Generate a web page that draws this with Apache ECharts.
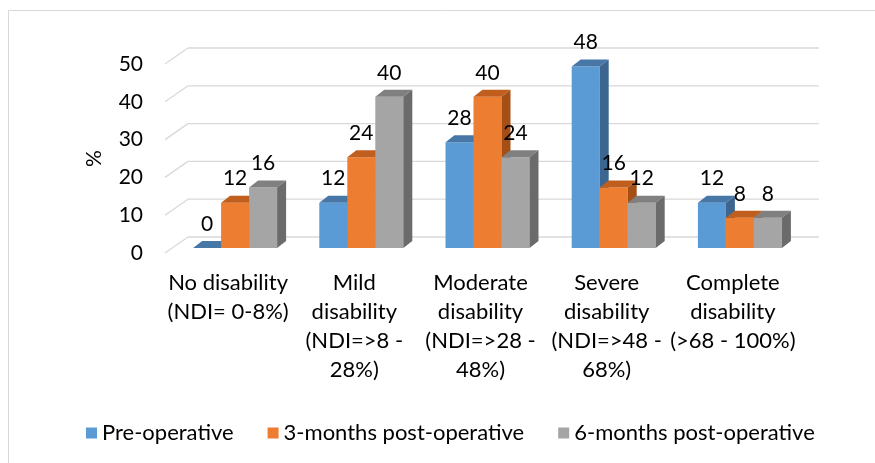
<!DOCTYPE html>
<html>
<head>
<meta charset="utf-8">
<script src="https://cdn.jsdelivr.net/npm/echarts@6/dist/echarts.min.js"></script>
<style>
  html, body { margin: 0; padding: 0; background: #ffffff; }
  #chart { width: 875px; height: 463px; }
</style>
</head>
<body>
<div id="chart"></div>
<script>
const categories = [
  'No disability\n(NDI= 0-8%)',
  'Mild\ndisability\n(NDI=>8 -\n28%)',
  'Moderate\ndisability\n(NDI=>28 -\n48%)',
  'Severe\ndisability\n(NDI=>48 -\n68%)',
  'Complete\ndisability\n(>68 - 100%)'
]
const seriesNames = ['Pre-operative', '3-months post-operative', '6-months post-operative']
const preOp = [0, 12, 28, 48, 12]
const post3m = [12, 24, 40, 16, 8]
const post6m = [16, 40, 24, 12, 8]
const yTicks = [0, 10, 20, 30, 40, 50]

const font = 'Lato, "Open Sans", sans-serif'
// front / top / side colours of each series
const faces = [
  ['#5b9bd5', '#4677a7', '#3c6690'],
  ['#ed7d31', '#c05e1e', '#a54f17'],
  ['#a5a5a5', '#808080', '#6b6b6b']
]
const BAR_W = 28
const DEPTH_X = 9
const DEPTH_Y = 7
// bars stand halfway into the depth of the floor
const MID_X = 7
const MID_Y = 5
// back wall offset from the front plane
const WALL_X = 23
const WALL_Y = 16

function barRenderer (s) {
  return function (params, api) {
    const i = api.value(0)
    const v = api.value(1)
    const top = api.coord([i, v])
    const base = api.coord([i, 0])
    const x0 = top[0] - 1.5 * BAR_W + s * BAR_W + MID_X
    const x1 = x0 + BAR_W
    const yt = top[1] - MID_Y
    const yb = base[1] - MID_Y
    const c = faces[s]
    return {
      type: 'group',
      children: [
        { type: 'rect', shape: { x: x0, y: yt, width: BAR_W, height: yb - yt }, style: { fill: c[0] } },
        { type: 'polygon', shape: { points: [[x0, yt], [x0 + DEPTH_X, yt - DEPTH_Y], [x1 + DEPTH_X, yt - DEPTH_Y], [x1, yt]] }, style: { fill: c[1] } },
        { type: 'polygon', shape: { points: [[x1, yt], [x1 + DEPTH_X, yt - DEPTH_Y], [x1 + DEPTH_X, yb - DEPTH_Y], [x1, yb]] }, style: { fill: c[2] } },
        { type: 'text', x: x0 + BAR_W / 2, y: yt - 24, style: { text: String(v), font: '21px ' + font, fill: '#000', align: 'center', verticalAlign: 'middle' } }
      ]
    }
  }
}

function wallRenderer (params, api) {
  const p = api.coord([0, api.value(0)])
  const left = params.coordSys.x
  const right = params.coordSys.x + params.coordSys.width
  return {
    type: 'group',
    children: [
      { type: 'line', shape: { x1: left, y1: p[1], x2: left + WALL_X, y2: p[1] - WALL_Y }, style: { stroke: '#d9d9d9', lineWidth: 1.3 } },
      { type: 'line', shape: { x1: left + WALL_X, y1: p[1] - WALL_Y, x2: right + WALL_X, y2: p[1] - WALL_Y }, style: { stroke: '#d9d9d9', lineWidth: 1.3 } }
    ]
  }
}

const chart = echarts.init(document.getElementById('chart'))
const seriesData = [preOp, post3m, post6m]
const option = {
  animation: false,
  backgroundColor: '#ffffff',
  graphic: [{
    type: 'rect',
    shape: { x: 8.5, y: 10.5, width: 900, height: 500 },
    style: { fill: 'none', stroke: '#d9d9d9', lineWidth: 1 },
    silent: true
  }],
  legend: {
    left: 81,
    top: 417,
    itemWidth: 11,
    itemHeight: 11,
    itemGap: 34,
    icon: 'rect',
    textStyle: { fontFamily: font, fontSize: 22, color: '#000' },
    data: seriesNames
  },
  grid: { left: 165, right: 79, top: 64, bottom: 210 },
  xAxis: {
    type: 'category',
    data: categories,
    axisLine: { show: false },
    axisTick: { show: false },
    axisLabel: { interval: 0, margin: 15, fontFamily: font, fontSize: 22, color: '#000', lineHeight: 29 }
  },
  yAxis: {
    type: 'value',
    min: 0,
    max: 50,
    interval: 10,
    name: '%',
    nameLocation: 'middle',
    nameRotate: 90,
    nameGap: 60,
    nameTextStyle: { fontFamily: font, fontSize: 21, color: '#000' },
    axisLine: { show: false },
    axisTick: { show: false },
    splitLine: { show: false },
    axisLabel: { margin: 22, fontFamily: font, fontSize: 21, color: '#000' }
  },
  series: [
    {
      type: 'custom',
      silent: true,
      renderItem: wallRenderer,
      encode: { y: 0 },
      data: yTicks.map(t => [t]),
      z: 1
    }
  ].concat(seriesData.map((vals, s) => ({
    name: seriesNames[s],
    type: 'custom',
    renderItem: barRenderer(s),
    itemStyle: { color: faces[s][0] },
    encode: { x: 0, y: 1 },
    data: vals.map((v, i) => [i, v]),
    z: 2 + s
  })))
}
chart.setOption(option)
</script>
</body>
</html>
